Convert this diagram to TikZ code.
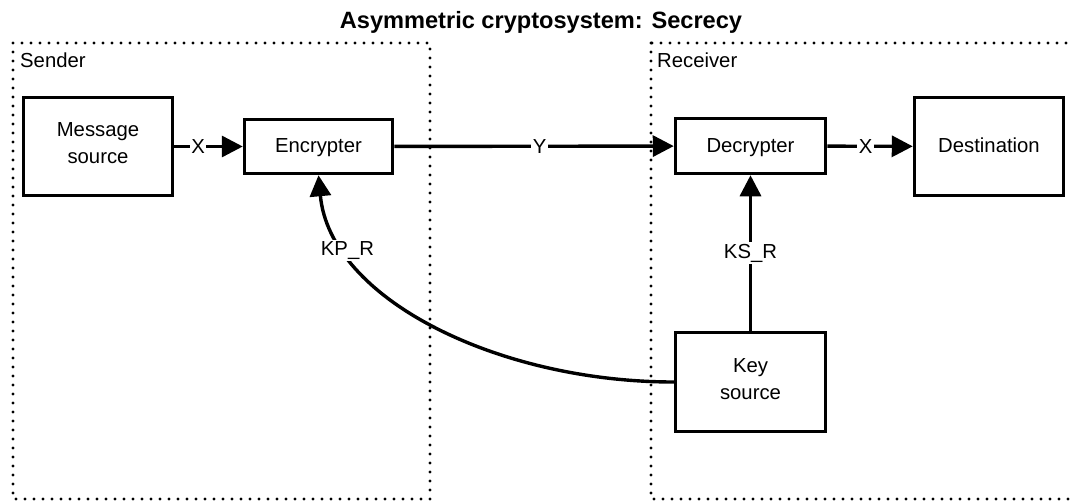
\documentclass[tikz,border=0pt]{standalone}
\usepackage{fontspec}
\setmainfont{Liberation Sans}
\usetikzlibrary{arrows.meta}
\begin{document}
\begin{tikzpicture}[x=1pt,y=-1pt,
  every node/.style={font=\fontsize{20.3}{27}\selectfont, text=black},
  block/.style={draw, line width=3.5pt, align=center, inner sep=0pt,
    execute at begin node={\vrule height 18pt depth 0pt width 0pt},
    execute at end node={\vrule height 0pt depth 6pt width 0pt}},
  zone/.style={draw, line width=3.2pt, dash pattern=on 0pt off 9pt, line cap=round},
  conn/.style={draw, line width=3.4pt, -{Triangle[length=21pt,width=21pt]}},
  lbl/.style={fill=white, inner sep=1.5pt}
]
\useasboundingbox (0,0) rectangle (1073,503);
% zones
\draw[zone] (13,43) rectangle (430,499);
\draw[zone] (651,43) rectangle (1100,499);
\node[anchor=base] (title) at (541,29) {\fontsize{23.6}{27}\selectfont\bfseries Asymmetric cryptosystem: Secrecy};
\node[anchor=base west, inner sep=0pt] (sender) at (20,67) {Sender};
\node[anchor=base west, inner sep=0pt] (receiver) at (657,67) {Receiver};
% blocks
\node[block, minimum width=149pt, minimum height=98pt] (msg) at (98,146.5) {Message\\source};
\node[block, minimum width=148pt, minimum height=54pt] (enc) at (318.5,146.5) {Encrypter};
\node[block, minimum width=150pt, minimum height=55pt] (dec) at (750.5,146) {Decrypter};
\node[block, minimum width=149pt, minimum height=98pt] (dest) at (989,146.5) {Destination};
\node[block, minimum width=150pt, minimum height=99pt] (key) at (750.5,382) {Key\\source};
% connectors
\draw[conn] (msg) -- node[lbl, pos=0.35] (x1) {X} (enc);
\draw[conn] (enc) -- node[lbl, pos=0.52] (y1) {Y} (dec);
\draw[conn] (dec) -- node[lbl, pos=0.45] (x2) {X} (dest);
\draw[conn] (key) -- node[lbl, pos=0.5] (ksr) {KS\_R} (dec);
\draw[conn] (key.west) .. controls (500,382) and (330,300) .. node[lbl, pos=0.78] (kpr) {KP\_R} (enc.south);
\end{tikzpicture}
\end{document}
